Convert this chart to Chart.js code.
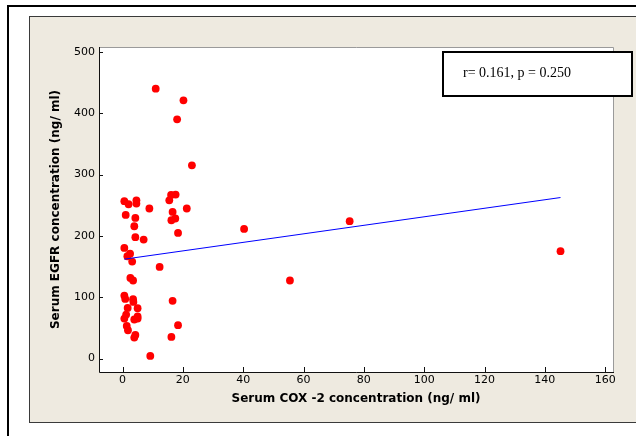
<!DOCTYPE html>
<html>
<head>
<meta charset="utf-8">
<script src="https://cdn.jsdelivr.net/npm/chart.js@4/dist/chart.umd.min.js"></script>
<style>
  html, body { margin: 0; padding: 0; background: #fff; }
  #wrap { width: 636px; height: 436px; }
</style>
</head>
<body>
<div id="wrap"><canvas id="scatter" width="636" height="436"></canvas></div>
<script>
// Serum COX-2 (x) vs Serum EGFR (y)
const cox2 = [
    11.0, 20.2, 18.1, 23.0,
    0.6, 2.0, 4.6, 4.6, 16.1, 17.6, 15.5, 8.9, 21.3, 1.05, 4.25, 16.6,
    16.2, 17.5, 3.9, 18.4, 4.25, 7.0, 0.6, 1.6, 2.5, 3.2, 12.3, 2.6,
    3.5, 0.6, 0.9, 3.5, 3.6, 16.6, 1.7, 5.0, 1.2, 0.6, 5.0, 5.0,
    3.9, 1.4, 1.8, 18.4, 4.25, 3.9, 16.2, 9.2,
    40.3, 75.3, 55.5, 145.2
];
const egfr = [
    440, 421, 390, 315,
    256.5, 251.6, 258, 252.7, 266.8, 267.4, 258, 244.6, 244.6, 234.2, 229.3, 239.1,
    225.5, 228.3, 215.7, 204.8, 197.8, 194.0, 180.3, 166.8, 171.0, 158.1, 149.4, 131.4,
    127.2, 102.7, 97.2, 96.7, 92.3, 94, 82.5, 82, 71.7, 65.2, 68.5, 65.2,
    63.6, 53.2, 46.1, 54.3, 38.5, 34.2, 35.2, 4.2,
    211.3, 223.9, 127.2, 175
];

// fitted regression line end points
const fitX = [0.6, 145.2];
const fitY = [162, 262.5];

const xTicks = [0, 20, 40, 60, 80, 100, 120, 140, 160];
const yTicks = [0, 100, 200, 300, 400, 500];

const statsText = 'r= 0.161, p = 0.250';

const points = cox2.map((x, i) => ({ x: x, y: egfr[i] }));
const fitLine = fitX.map((x, i) => ({ x: x, y: fitY[i] }));

// beige figure region, outer frame, white plot area
const backdrop = {
    id: 'backdrop',
    beforeDraw(chart) {
        const ctx = chart.ctx;
        const a = chart.chartArea;
        ctx.save();
        ctx.fillStyle = '#ffffff';
        ctx.fillRect(0, 0, chart.width, chart.height);
        ctx.strokeStyle = '#000';
        ctx.lineWidth = 2;
        ctx.strokeRect(8, 6, 700, 700);
        ctx.fillStyle = '#eeeae0';
        ctx.fillRect(29, 16, 700, 406);
        ctx.strokeStyle = '#3a3a3a';
        ctx.lineWidth = 1;
        ctx.strokeRect(29.5, 16.5, 700, 406);
        ctx.fillStyle = '#ffffff';
        ctx.fillRect(a.left, a.top, a.right - a.left, a.bottom - a.top);
        ctx.restore();
    }
};

// plot frame, inward ticks and the stats box
const frame = {
    id: 'frame',
    afterDraw(chart) {
        const ctx = chart.ctx;
        const a = chart.chartArea;
        const xs = chart.scales.x;
        const ys = chart.scales.y;
        ctx.save();
        ctx.lineWidth = 1;
        ctx.strokeStyle = '#9a9a9a';
        ctx.beginPath();
        ctx.moveTo(a.left, a.top + 0.5);
        ctx.lineTo(a.right + 0.5, a.top + 0.5);
        ctx.lineTo(a.right + 0.5, a.bottom);
        ctx.stroke();
        ctx.strokeStyle = '#111';
        ctx.beginPath();
        ctx.moveTo(a.left + 0.5, a.top);
        ctx.lineTo(a.left + 0.5, a.bottom + 0.5);
        ctx.lineTo(a.right + 1, a.bottom + 0.5);
        ctx.stroke();

        ctx.beginPath();
        xTicks.forEach(v => {
            const px = Math.round(xs.getPixelForValue(v)) + 0.5;
            ctx.moveTo(px, a.bottom);
            ctx.lineTo(px, a.bottom - 5);
        });
        yTicks.forEach(v => {
            const py = Math.round(ys.getPixelForValue(v)) + 0.5;
            ctx.moveTo(a.left, py);
            ctx.lineTo(a.left + 4, py);
        });
        ctx.stroke();

        ctx.fillStyle = '#fff';
        ctx.fillRect(443, 52, 189, 44);
        ctx.strokeStyle = '#000';
        ctx.lineWidth = 2;
        ctx.strokeRect(443, 52, 189, 44);
        ctx.fillStyle = '#000';
        ctx.font = '14px "Liberation Serif", "Times New Roman", serif';
        ctx.textBaseline = 'alphabetic';
        ctx.textAlign = 'left';
        ctx.fillText(statsText, 463, 77);
        ctx.restore();
    }
};

const tickFont = { family: '"DejaVu Sans", Tahoma, sans-serif', size: 11 };
const titleFont = { family: '"DejaVu Sans", Tahoma, sans-serif', size: 12, weight: 'bold' };

new Chart(document.getElementById('scatter'), {
    type: 'scatter',
    data: {
        datasets: [
            {
                type: 'line',
                label: 'fit',
                data: fitLine,
                borderColor: '#0000ff',
                borderWidth: 1,
                pointRadius: 0,
                fill: false,
                tension: 0
            },
            {
                label: 'samples',
                data: points,
                backgroundColor: '#ff0000',
                borderWidth: 0,
                pointRadius: 3.9,
                pointHoverRadius: 3.9
            }
        ]
    },
    options: {
        responsive: false,
        animation: false,
        events: [],
        layout: { padding: { left: 0, top: 47, right: 23, bottom: 0 } },
        plugins: {
            legend: { display: false },
            tooltip: { enabled: false }
        },
        scales: {
            x: {
                type: 'linear',
                min: -7.8,
                max: 162.6,
                grid: { display: false, drawTicks: false },
                border: { display: false },
                afterBuildTicks: s => { s.ticks = xTicks.map(v => ({ value: v })); },
                afterFit: s => { s.height = 64; },
                ticks: { font: tickFont, color: '#000', padding: 2, maxRotation: 0 },
                title: {
                    display: true,
                    text: 'Serum COX -2 concentration (ng/ ml)',
                    font: titleFont,
                    color: '#000',
                    padding: { top: 0, bottom: 30 }
                }
            },
            y: {
                type: 'linear',
                min: -22,
                max: 508,
                grid: { display: false, drawTicks: false },
                border: { display: false },
                afterBuildTicks: s => { s.ticks = yTicks.map(v => ({ value: v })); },
                afterFit: s => { s.width = 99; },
                ticks: { font: tickFont, color: '#000', padding: 4 },
                title: {
                    display: true,
                    text: 'Serum EGFR concentration (ng/ ml)',
                    font: titleFont,
                    color: '#000',
                    padding: { top: 49, bottom: 0 }
                }
            }
        }
    },
    plugins: [backdrop, frame]
});
</script>
</body>
</html>
